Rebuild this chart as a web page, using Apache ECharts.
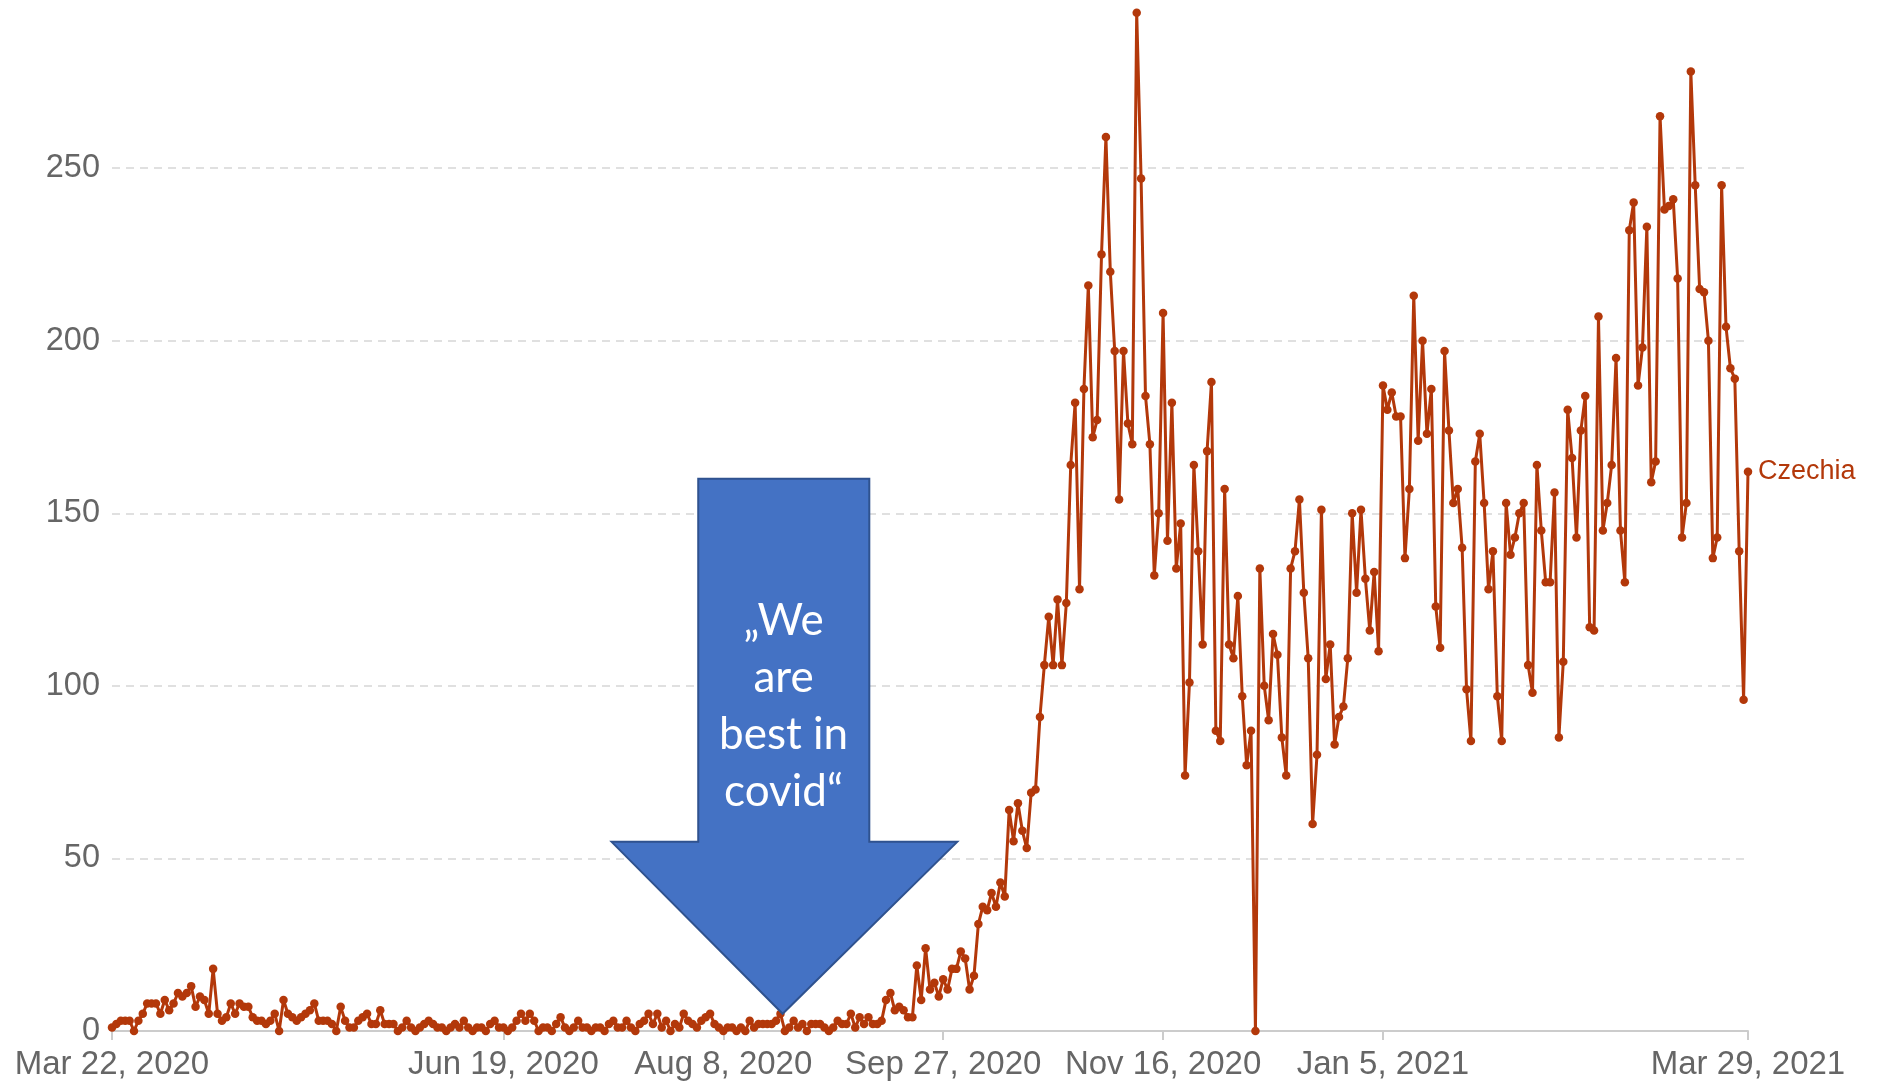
<!DOCTYPE html>
<html>
<head>
<meta charset="utf-8">
<script src="https://cdn.jsdelivr.net/npm/echarts@6/dist/echarts.min.js"></script>
<style>
  html, body { margin: 0; padding: 0; background: #ffffff; }
  #main { width: 1888px; height: 1082px; }
</style>
</head>
<body>
<div id="main"></div>
<script>
// ---- Data (daily values, starting Mar 22, 2020) ----
const startDate = '2020-03-22';
const seriesName = 'Czechia';

const deathsSpring = [1,2,3,3,3,0,3,5,8,8, 8,5,9,6,8,11,10,11,13,7, 10,9,5,18,5,3,4,8,5,8,
  7,7,4,3,3,2,3,5,0,9, 5,4,3,4,5,6,8,3,3,3, 2,0,7,3,1,1,3,4,5,2, 2,6,2,2,2,0];
const deathsSummer = [1,3,1,0,1,2,3,2,1,1, 0,1,2,1,3,1,0,1,1,0, 2,3,1,1,0,1,3,5,3,5,
  3,0,1,1,0,2,4,1,0,1, 3,1,1,0,1,1,0,2,3,1, 1,3,1,0,2,3,5,2,5,1, 3,0,2,1,5,3,2];
const deathsLateSummer = [1,3,4,5,2,1,0,1,1,0, 1,0,3,1,2,2,2,2,3,5, 0,1,3,1,2,0,2,2,2,1,
  0,1,3,2,2,5,1,4,2,4, 2,2,3,9,11,6,7,6,4,4, 19,9,24,12,14,10,15,12,18,18, 23,21,12,16,31,36];
const deathsOctober = [35,40,36,43,39,64,55,66,58,53,69,70,91,106,120,106,125,106,124];
const deathsNovember = [164,182,128,186,216,172,177,225,259,220,197,154,197,176,170,295,247,184,170,132,150];
const deathsLateNov = [208,142,182,134,147,74,101,164,139,112,168,188,87,84,157,112,108,126,97];
const deathsDecember = [77,87,0,134,100,90,115,109,85,74,134,139,154,127,108,60,80,151];
const deathsNewYear = [102,112,83,91,94,108,150,127,151,131,116,133,110,187,180,185,178,178];
const deathsJanuary = [137,157,213,171,200,173,186,123,111,197,174,153,157,140,99,84,165,173];
const deathsFebruary = [153,128,139,97,84,153,138,143,150,153,106,98,164,145,130,130,156,85];
const deathsLateFeb = [107,180,166,143,174,184,117,116,207,145,153,164,195,145,130,232,240,187];
const deathsMarch = [198,233,159,165,265,238,239,241,218,143,153,278,245,215,214,200,137,143,245,204,192,189,139,96,162];

const tickLabels = ['Mar 22, 2020','Jun 19, 2020','Aug 8, 2020','Sep 27, 2020','Nov 16, 2020','Jan 5, 2021','Mar 29, 2021'];
const yTicks = { min: 0, max: 300, interval: 50 };

const annotationText = '\u201EWe\nare\nbest in\ncovid\u201C';

// ---- Build ----
const values = [].concat(deathsSpring, deathsSummer, deathsLateSummer, deathsOctober,
  deathsNovember, deathsLateNov, deathsDecember, deathsNewYear, deathsJanuary,
  deathsFebruary, deathsLateFeb, deathsMarch);

const MONTHS = ['Jan','Feb','Mar','Apr','May','Jun','Jul','Aug','Sep','Oct','Nov','Dec'];
const t0 = Date.parse(startDate + 'T00:00:00Z');
const categories = values.map((_, i) => {
  const d = new Date(t0 + i * 86400000);
  return MONTHS[d.getUTCMonth()] + ' ' + d.getUTCDate() + ', ' + d.getUTCFullYear();
});
const tickSet = new Set(tickLabels);
const showTick = (idx, val) => tickSet.has(categories[idx]);

const LINE_COLOR = '#B3380A';
const FONT = '"Liberation Sans", Arial, sans-serif';

const chart = echarts.init(document.getElementById('main'), null, { renderer: 'canvas' });
chart.setOption({
  animation: false,
  backgroundColor: '#ffffff',
  grid: { left: 112, right: 140, top: -4.5, bottom: 51, containLabel: false, outerBoundsMode: 'none' },
  xAxis: {
    type: 'category',
    data: categories,
    boundaryGap: false,
    axisLine: { show: true, lineStyle: { color: '#cccccc', width: 2 } },
    axisTick: { show: true, interval: showTick, length: 9, lineStyle: { color: '#cccccc', width: 2 } },
    axisLabel: { show: true, interval: showTick, color: '#666666', fontSize: 33, fontFamily: FONT, margin: 17, hideOverlap: false },
    splitLine: { show: false }
  },
  yAxis: {
    type: 'value',
    min: yTicks.min, max: yTicks.max, interval: yTicks.interval,
    axisLine: { show: false },
    axisTick: { show: false },
    axisLabel: { color: '#666666', fontSize: 32.5, fontFamily: FONT, margin: 12, showMaxLabel: false },
    splitLine: { show: true, lineStyle: { color: '#d6d6d6', width: 1.5, type: [8, 6] } }
  },
  series: [{
    name: seriesName,
    type: 'line',
    data: values,
    showSymbol: true,
    showAllSymbol: true,
    symbol: 'circle',
    symbolSize: 8.5,
    itemStyle: { color: LINE_COLOR },
    lineStyle: { color: LINE_COLOR, width: 3 },
    endLabel: { show: true, formatter: seriesName, color: LINE_COLOR, fontSize: 27, fontFamily: FONT, distance: 10 },
    z: 2
  }]
});

// ---- Arrow annotation, defined in data space (day index, value) ----
const arrowGeom = { headLeft: 113.6, bodyLeft: 133.3, tipDay: 152.5, bodyRight: 172.2, headRight: 192.2,
                    top: 160, shoulder: 54.8, tip: 5, textDay: 152.7, textValue: 94 };
const n = values.length;
const xa = chart.convertToPixel({ xAxisIndex: 0 }, 0);
const xb = chart.convertToPixel({ xAxisIndex: 0 }, n - 1);
const px = d => xa + (xb - xa) * d / (n - 1);
const py = v => chart.convertToPixel({ yAxisIndex: 0 }, v);
const g = arrowGeom;
const pts = [
  [px(g.bodyLeft), py(g.top)], [px(g.bodyRight), py(g.top)],
  [px(g.bodyRight), py(g.shoulder)], [px(g.headRight), py(g.shoulder)],
  [px(g.tipDay), py(g.tip)],
  [px(g.headLeft), py(g.shoulder)], [px(g.bodyLeft), py(g.shoulder)]
];
chart.setOption({
  graphic: [
    { type: 'polygon', z: 100, shape: { points: pts },
      style: { fill: '#4472C4', stroke: '#2F528F', lineWidth: 2 } },
    { type: 'text', z: 101, x: px(g.textDay), y: py(g.textValue),
      style: { text: annotationText, fill: '#ffffff', fontSize: 44, fontFamily: 'Lato, "Open Sans", sans-serif',
               align: 'center', verticalAlign: 'middle', textAlign: 'center', textVerticalAlign: 'middle', lineHeight: 57 } }
  ]
});
</script>
</body>
</html>
